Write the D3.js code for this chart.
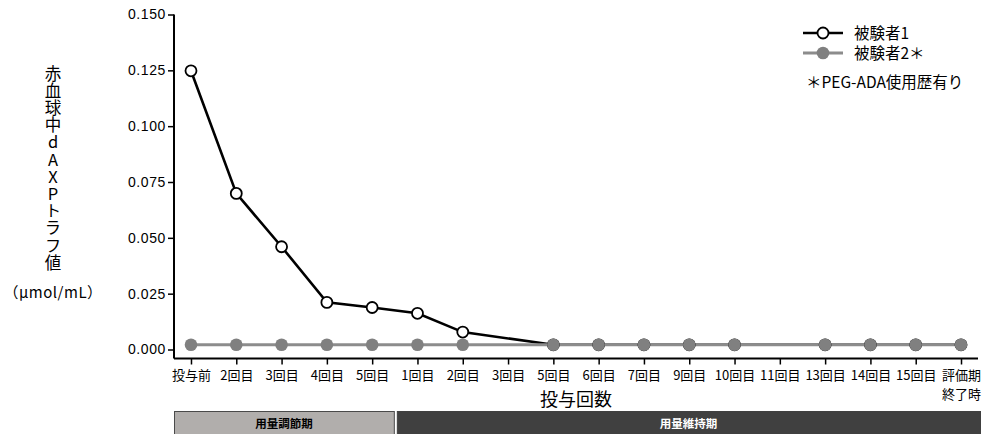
<!DOCTYPE html>
<html>
<head>
<meta charset="utf-8">
<script src="https://cdn.jsdelivr.net/npm/d3@7"></script>
<style>
  html, body { margin: 0; padding: 0; background: #fff; }
  svg { display: block; }
  text { font-family: "Liberation Sans", "Noto Sans CJK JP", sans-serif; fill: #000; }
  .jp { font-family: "Noto Sans CJK JP", "Liberation Sans", sans-serif; }
  .vert { writing-mode: vertical-rl; text-orientation: upright; }
</style>
</head>
<body>
<svg id="chart" width="987" height="434"></svg>
<script>
// Dosing visits along the x axis
const visits = ["投与前", "2回目", "3回目", "4回目", "5回目", "1回目", "2回目", "3回目", "5回目",
                "6回目", "7回目", "9回目", "10回目", "11回目", "13回目", "14回目", "15回目", "評価期\n終了時"];
// Trough erythrocyte dAXP (μmol/mL); null = not measured
const subject1 = [0.1248, 0.0699, 0.0460, 0.0211, 0.0188, 0.0162, 0.0078, null, 0.0021,
                  0.0021, 0.0021, 0.0021, 0.0021, null, 0.0021, 0.0021, 0.0021, 0.0021];
const subject2 = [0.0021, 0.0021, 0.0021, 0.0021, 0.0021, 0.0021, 0.0021, null, 0.0021,
                  0.0021, 0.0021, 0.0021, 0.0021, null, 0.0021, 0.0021, 0.0021, 0.0021];
const yTicks = [0, 0.025, 0.05, 0.075, 0.1, 0.125, 0.15];
// Study phases: [label, first visit index, last visit index]
const phases = [["用量調節期", 0, 4], ["用量維持期", 5, 17]];
const yTitle = "赤血球中dAXPトラフ値";
const yUnit = "（μmol/mL）";

const svg = d3.select("#chart");
const plotL = 174, plotR = 978, plotT = 14.5, plotB = 349.5, axisY = 358.5;

const x = d3.scalePoint().domain(d3.range(visits.length)).range([plotL, plotR]).padding(0.375);
const y = d3.scaleLinear().domain([0, 0.15]).range([plotB, plotT]);

// Y axis
const yAxis = svg.append("g").attr("transform", `translate(${plotL},0)`)
  .call(d3.axisLeft(y).tickValues(yTicks).tickFormat(d3.format(".3f")).tickSize(6).tickSizeOuter(0));
yAxis.select(".domain").remove();
yAxis.append("line").attr("x1", 0).attr("x2", 0).attr("y1", plotT).attr("y2", axisY)
  .attr("stroke", "#000").attr("stroke-width", 2);
yAxis.selectAll(".tick line").attr("stroke", "#000").attr("stroke-width", 1.5);
yAxis.selectAll(".tick text").attr("font-size", 14).attr("letter-spacing", 0.6)
  .attr("x", -8).attr("fill", "#000");

// X axis
const xAxis = svg.append("g").attr("transform", `translate(0,${axisY})`)
  .call(d3.axisBottom(x).tickSize(6).tickSizeOuter(0).tickFormat(() => ""));
xAxis.select(".domain").remove();
xAxis.append("line").attr("x1", plotL).attr("x2", plotR).attr("y1", 0).attr("y2", 0)
  .attr("stroke", "#000").attr("stroke-width", 2);
xAxis.selectAll(".tick line").attr("stroke", "#000").attr("stroke-width", 1.5);
xAxis.selectAll(".tick").each(function(d) {
  const lines = visits[d].split("\n");
  const t = d3.select(this).append("text").attr("class", "jp").attr("text-anchor", "middle")
    .attr("font-size", 13).attr("fill", "#000");
  lines.forEach((s, i) => t.append("tspan").attr("x", 0).attr("y", 21.5 + i * 19).text(s));
});

svg.append("text").attr("class", "jp").attr("x", (plotL + plotR) / 2).attr("y", 406)
  .attr("text-anchor", "middle").attr("font-size", 18).text("投与回数");

// Y axis title, set vertically with upright glyphs
svg.append("text").attr("class", "jp vert").attr("x", 53).attr("y", 65)
  .attr("font-size", 16.5).attr("letter-spacing", 0.7).text(yTitle);
svg.append("text").attr("class", "jp").attr("x", 53).attr("y", 298).attr("text-anchor", "middle")
  .attr("font-size", 15).attr("letter-spacing", 0.5).text(yUnit);

// Series
const pts = arr => arr.map((v, i) => ({ i, v })).filter(p => p.v !== null);
const line = d3.line().x(p => x(p.i)).y(p => y(p.v));
const grey = "#808080";

svg.append("path").datum(pts(subject1)).attr("d", line)
  .attr("fill", "none").attr("stroke", "#000").attr("stroke-width", 2.6);
svg.append("path").datum(pts(subject2)).attr("d", line)
  .attr("fill", "none").attr("stroke", "#8c8c8c").attr("stroke-width", 3);
svg.append("g").selectAll("circle").data(pts(subject1)).join("circle")
  .attr("cx", p => x(p.i)).attr("cy", p => y(p.v)).attr("r", 5.5)
  .attr("fill", "#fff").attr("stroke", "#000").attr("stroke-width", 1.8);
svg.append("g").selectAll("circle").data(pts(subject2)).join("circle")
  .attr("cx", p => x(p.i)).attr("cy", p => y(p.v)).attr("r", 6.3).attr("fill", grey);

// Legend
const lg = svg.append("g");
lg.append("line").attr("x1", 803).attr("x2", 843).attr("y1", 33).attr("y2", 33)
  .attr("stroke", "#000").attr("stroke-width", 2.6);
lg.append("circle").attr("cx", 823).attr("cy", 33).attr("r", 5.5)
  .attr("fill", "#fff").attr("stroke", "#000").attr("stroke-width", 1.8);
lg.append("text").attr("class", "jp").attr("x", 854).attr("y", 38.5).attr("font-size", 15.5).text("被験者1");
lg.append("line").attr("x1", 803).attr("x2", 843).attr("y1", 53).attr("y2", 53)
  .attr("stroke", "#8c8c8c").attr("stroke-width", 3);
lg.append("circle").attr("cx", 823).attr("cy", 53).attr("r", 6.3).attr("fill", grey);
lg.append("text").attr("class", "jp").attr("x", 854).attr("y", 58.5).attr("font-size", 15.5).text("被験者2＊");
lg.append("text").attr("class", "jp").attr("x", 806).attr("y", 88).attr("font-size", 15.5).text("＊PEG-ADA使用歴有り");

// Phase bands under the axis
const step = x.step();
phases.forEach(([label, a, b], k) => {
  const x0 = k === 0 ? plotL : x(a) - step / 2 + 2;
  const x1 = k === 0 ? x(b) + step / 2 - 1 : plotR + 2;
  svg.append("rect").attr("x", x0 + 0.5).attr("y", 411.5).attr("width", x1 - x0).attr("height", 30)
    .attr("fill", k === 0 ? "#b1aeac" : "#404040").attr("stroke", k === 0 ? "#4a4a4a" : "#404040");
  svg.append("text").attr("class", "jp").attr("x", (x0 + x1) / 2).attr("y", 427.5)
    .attr("text-anchor", "middle").attr("font-size", 11.5).attr("font-weight", "bold")
    .style("fill", k === 0 ? "#000" : "#fff").text(label);
});
</script>
</body>
</html>
